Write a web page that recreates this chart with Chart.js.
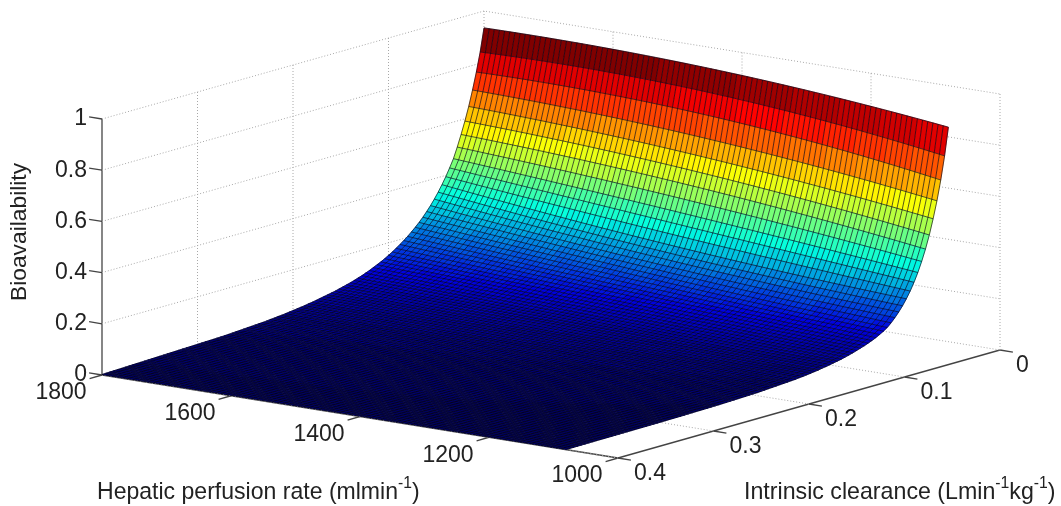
<!DOCTYPE html>
<html>
<head>
<meta charset="utf-8">
<title>Bioavailability surface</title>
<script src="https://cdn.jsdelivr.net/npm/chart.js@4"></script>
<style>
  html, body { margin: 0; padding: 0; background: #fff; }
  canvas { display: block; filter: blur(0.7px); }
</style>
</head>
<body>
<canvas id="myChart" width="1061" height="506"></canvas>
<script>
// tick labels
const rateTicks = [1800, 1600, 1400, 1200, 1000];
const clearanceTicks = [0.4, 0.3, 0.2, 0.1, 0];
const bioTicks = [0, 0.2, 0.4, 0.6, 0.8, 1];

// mesh rows and columns of the surface
const clearanceRows = [
  0, 0.004, 0.008, 0.012, 0.016, 0.02, 0.024, 0.028, 0.032, 0.036, 0.04, 0.044, 0.048, 0.052, 0.056, 0.06, 0.064, 0.068, 0.072, 0.076,
  0.08, 0.084, 0.088, 0.092, 0.096, 0.1, 0.104, 0.108, 0.112, 0.116, 0.12, 0.124, 0.128, 0.132, 0.136, 0.14, 0.144, 0.148, 0.152, 0.156,
  0.16, 0.164, 0.168, 0.172, 0.176, 0.18, 0.184, 0.188, 0.192, 0.196, 0.2, 0.204, 0.208, 0.212, 0.216, 0.22, 0.224, 0.228, 0.232, 0.236,
  0.24, 0.244, 0.248, 0.252, 0.256, 0.26, 0.264, 0.268, 0.272, 0.276, 0.28, 0.284, 0.288, 0.292, 0.296, 0.3, 0.304, 0.308, 0.312, 0.316,
  0.32, 0.324, 0.328, 0.332, 0.336, 0.34, 0.344, 0.348, 0.352, 0.356, 0.36, 0.364, 0.368, 0.372, 0.376, 0.38, 0.384, 0.388, 0.392, 0.396, 0.4
];
const rateColumns = [
  1800, 1792, 1784, 1776, 1768, 1760, 1752, 1744, 1736, 1728, 1720, 1712, 1704, 1696, 1688, 1680, 1672, 1664, 1656, 1648,
  1640, 1632, 1624, 1616, 1608, 1600, 1592, 1584, 1576, 1568, 1560, 1552, 1544, 1536, 1528, 1520, 1512, 1504, 1496, 1488,
  1480, 1472, 1464, 1456, 1448, 1440, 1432, 1424, 1416, 1408, 1400, 1392, 1384, 1376, 1368, 1360, 1352, 1344, 1336, 1328,
  1320, 1312, 1304, 1296, 1288, 1280, 1272, 1264, 1256, 1248, 1240, 1232, 1224, 1216, 1208, 1200, 1192, 1184, 1176, 1168,
  1160, 1152, 1144, 1136, 1128, 1120, 1112, 1104, 1096, 1088, 1080
];

// bioavailability, one value per clearance row, at three perfusion rates
const bioAt1800 = [
  .934, .844, .770, .704, .644, .591, .543, .498, .457, .425, .395, .368, .343, .320, .299, .280, .262, .246, .231, .217,
  .204, .192, .181, .170, .160, .151, .142, .134, .127, .120, .113, .107, .101, .096, .091, .086, .082, .078, .074, .070,
  .067, .064, .061, .058, .055, .052, .050, .047, .045, .043, .041, .039, .037, .035, .034, .032, .031, .029, .028, .027,
  .026, .025, .024, .023, .022, .021, .020, .019, .018, .0175, .017, .0165, .016, .0155, .015, .0145, .014, .0135, .013, .0125,
  .012, .0115, .011, .0105, .010, .0095, .009, .0085, .008, .0075, .007, .0065, .006, .0055, .005, .0045, .004, .0035, .003, .0025, .002
];
const bioAt1440 = [
  .916, .829, .746, .662, .595, .539, .487, .435, .387, .347, .310, .274, .250, .230, .212, .197, .183, .171, .160, .150,
  .140, .132, .124, .116, .109, .103, .097, .091, .086, .081, .076, .072, .068, .065, .062, .059, .057, .054, .051, .048,
  .046, .044, .042, .040, .038, .036, .034, .032, .031, .029, .027, .026, .025, .024, .023, .022, .021, .020, .019, .018,
  .017, .0165, .016, .0155, .015, .0145, .014, .0135, .013, .0125, .012, .0117, .0113, .011, .0107, .0103, .010, .0097, .0093, .009,
  .0087, .0083, .008, .0077, .0073, .007, .0067, .0063, .006, .0057, .0053, .005, .0047, .0043, .004, .0037, .0033, .003, .0027, .0023, .002
];
const bioAt1080 = [
  .838, .730, .640, .563, .497, .438, .387, .343, .304, .270, .240, .214, .191, .171, .153, .137, .123, .113, .104, .096,
  .089, .083, .077, .072, .067, .062, .058, .054, .050, .047, .044, .041, .038, .036, .033, .031, .029, .027, .025, .024,
  .022, .021, .020, .019, .018, .017, .016, .015, .014, .013, .012, .0115, .011, .0105, .010, .0095, .009, .0085, .008, .0075,
  .007, .0068, .0065, .0062, .006, .0057, .0055, .0052, .005, .0047, .0045, .0043, .0042, .004, .0038, .0037, .0035, .0034, .0032, .0031,
  .003, .0029, .0028, .0027, .0026, .0025, .0024, .0023, .0022, .0021, .002, .0019, .0018, .0017, .0016, .0015, .0014, .0013, .0012, .0011, .001
];

// view of the box: where rate, clearance and bioavailability land on the flat chart scales
function toPlot(rate, clearance, bio) {
  const fq = (1800 - rate) / 800;
  const fc = (0.4 - clearance) / 0.4;
  return { x: 102 + 516 * fq + 382 * fc, y: 375 + 83 * fq - 108 * fc - 256 * bio };
}

// height of the surface between the three read columns, only used to place the mesh
function bioAt(k, rate) {
  const a = 1800, b = 1440, c = 1080;
  return bioAt1800[k] * (rate - b) * (rate - c) / ((a - b) * (a - c))
       + bioAt1440[k] * (rate - a) * (rate - c) / ((b - a) * (b - c))
       + bioAt1080[k] * (rate - a) * (rate - b) / ((c - a) * (c - b));
}

function jet(v) {
  const t = Math.round(Math.min(1, v / bioAt1800[0]) * 63) / 63;
  const part = (d) => Math.max(0, Math.min(1, 1.5 - Math.abs(4 * t - d)));
  return `rgb(${Math.round(part(3) * 255)},${Math.round(part(2) * 255)},${Math.round(part(1) * 225)})`;
}

const meshColor = 'rgba(0,0,20,0.72)';
const datasets = [];
function addLine(points, color, width, dash) {
  datasets.push({ data: points, showLine: true, pointRadius: 0, borderColor: color, borderWidth: width, borderDash: dash || [], tension: 0 });
}

// mesh rows first, then columns
clearanceRows.forEach((cl, k) => {
  addLine(rateColumns.map((r) => toPlot(r, cl, bioAt(k, r))), meshColor, 0.9);
});
rateColumns.forEach((r) => {
  addLine(clearanceRows.map((cl, k) => toPlot(r, cl, bioAt(k, r))), meshColor, 0.9);
});
const lastMesh = datasets.length - 1;

// box walls, dotted grid
const gridColor = '#a8a8a8';
const dots = [1, 2];
bioTicks.forEach((b) => {
  addLine([toPlot(1800, 0.4, b), toPlot(1800, 0, b), toPlot(1000, 0, b)], gridColor, 1, dots);
});
clearanceTicks.forEach((c) => {
  if (c !== 0.4) addLine([toPlot(1800, c, 0), toPlot(1800, c, 1)], gridColor, 1, dots);
  if (c !== 0) addLine([toPlot(1000, c, 0), toPlot(1800, c, 0)], gridColor, 1, dots);
});
rateTicks.forEach((r) => {
  if (r !== 1800) addLine([toPlot(r, 0, 0), toPlot(r, 0, 1)], gridColor, 1, dots);
  if (r !== 1000) addLine([toPlot(r, 0.4, 0), toPlot(r, 0, 0)], gridColor, 1, dots);
});

// solid axes and tick marks
const axisColor = '#444444';
addLine([toPlot(1800, 0.4, 0), toPlot(1800, 0.4, 1)], axisColor, 1.3);
addLine([toPlot(1800, 0.4, 0), toPlot(1000, 0.4, 0)], axisColor, 1.3);
addLine([toPlot(1000, 0.4, 0), toPlot(1000, 0, 0)], axisColor, 1.3);
bioTicks.forEach((b) => addLine([toPlot(1820, 0.4, b), toPlot(1800, 0.4, b)], axisColor, 1.3));
rateTicks.forEach((r) => addLine([toPlot(r, 0.413, 0), toPlot(r, 0.4, 0)], axisColor, 1.3));
clearanceTicks.forEach((c) => addLine([toPlot(980, c, 0), toPlot(1000, c, 0)], axisColor, 1.3));

const facets = {
  id: 'facets',
  beforeDatasetDraw(chart, args) {
    // datasets draw from the last index down, so this runs right after the grid and axes
    if (args.index !== lastMesh) return;
    const ctx = chart.ctx;
    const row = (k) => chart.getDatasetMeta(k).data;
    ctx.save();
    ctx.lineWidth = 0.5;
    for (let k = 0; k < clearanceRows.length - 1; k++) {
      const a = row(k), b = row(k + 1);
      for (let j = 0; j < rateColumns.length - 1; j++) {
        const color = jet(bioAt(k, rateColumns[j]));
        ctx.fillStyle = color;
        ctx.strokeStyle = color;
        ctx.beginPath();
        ctx.moveTo(a[j].x, a[j].y);
        ctx.lineTo(a[j + 1].x, a[j + 1].y);
        ctx.lineTo(b[j + 1].x, b[j + 1].y);
        ctx.lineTo(b[j].x, b[j].y);
        ctx.closePath();
        ctx.fill();
        ctx.stroke();
      }
    }
    ctx.restore();
  }
};

// text with raised -1 parts: pieces are [text, raised]
function drawPieces(ctx, pieces, x, y, size) {
  let cx = x;
  pieces.forEach(([text, raised]) => {
    ctx.font = `${raised ? size * 0.68 : size}px "Liberation Sans"`;
    ctx.fillText(text, cx, raised ? y - size * 0.42 : y);
    cx += ctx.measureText(text).width;
  });
}

const labels = {
  id: 'labels',
  afterDatasetsDraw(chart) {
    const ctx = chart.ctx;
    const px = (p) => ({ x: chart.scales.x.getPixelForValue(p.x), y: chart.scales.y.getPixelForValue(p.y) });
    ctx.save();
    ctx.fillStyle = '#222222';
    ctx.textBaseline = 'middle';
    ctx.font = '23px "Liberation Sans"';
    ctx.textAlign = 'right';
    bioTicks.forEach((b) => {
      const p = px(toPlot(1800, 0.4, b));
      ctx.fillText(String(b), p.x - 15, p.y);
    });
    ctx.textAlign = 'center';
    rateTicks.forEach((r) => {
      const p = px(toPlot(r, 0.4, 0));
      ctx.fillText(String(r), p.x - 41, p.y + 18);
    });
    ctx.textAlign = 'left';
    clearanceTicks.forEach((c) => {
      const p = px(toPlot(1000, c, 0));
      ctx.fillText(String(c), p.x + 16, p.y + 16);
    });
    drawPieces(ctx, [['Hepatic perfusion rate (mlmin', false], ['-1', true], [')', false]], 97, 493, 23.05);
    drawPieces(ctx, [['Intrinsic clearance (Lmin', false], ['-1', true], ['kg', false], ['-1', true], [')', false]], 744, 493, 23.2);
    ctx.translate(20, 232);
    ctx.rotate(-Math.PI / 2);
    ctx.textAlign = 'center';
    ctx.font = '22.8px "Liberation Sans"';
    ctx.fillText('Bioavailability', 0, 0);
    ctx.restore();
  }
};

new Chart('myChart', {
  type: 'scatter',
  data: { datasets: datasets },
  options: {
    responsive: false,
    animation: false,
    layout: { padding: 0 },
    plugins: { legend: { display: false }, tooltip: { enabled: false } },
    scales: {
      x: { type: 'linear', display: false, min: 0, max: 1061 },
      y: { type: 'linear', display: false, min: 0, max: 506, reverse: true }
    }
  },
  plugins: [facets, labels]
});
</script>
</body>
</html>
